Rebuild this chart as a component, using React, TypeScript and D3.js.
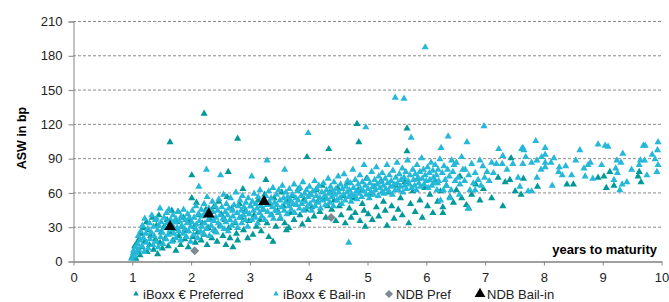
import React, { useEffect, useRef } from "react";
import * as d3 from "d3";

// axis ticks
const xTicks = [0, 1, 2, 3, 4, 5, 6, 7, 8, 9, 10];
const yTicks = [0, 30, 60, 90, 120, 150, 180, 210];

const legendLabels = ["iBoxx € Preferred", "iBoxx € Bail-in", "NDB Pref", "NDB Bail-in"];

// [years to maturity, ASW in bp]
const preferred: [number, number][] = [
  [1.0, 3], [1.03, 7], [1.05, 13], [1.07, 2], [1.08, 15], [1.1, 9], [1.12, 19], [1.14, 5], [1.16, 24], [1.18, 12],
  [1.2, 29], [1.22, 17], [1.25, 34], [1.26, 8], [1.28, 27], [1.3, 14], [1.32, 22], [1.35, 38], [1.37, 10], [1.4, 19],
  [1.42, 31], [1.44, 6], [1.46, 40], [1.48, 16], [1.5, 25],
  [1.52, 11], [1.55, 30], [1.57, 20], [1.6, 36], [1.62, 13], [1.65, 104], [1.65, 25], [1.68, 44], [1.7, 18], [1.72, 28],
  [1.75, 9], [1.77, 34], [1.79, 43], [1.8, 22], [1.83, 14], [1.85, 30], [1.88, 38], [1.9, 19], [1.93, 26], [1.96, 12], [1.98, 35],
  [2.02, 75], [2.02, 55], [2.04, 21], [2.06, 30], [2.08, 16], [2.1, 51], [2.12, 25], [2.15, 40], [2.18, 18], [2.2, 33],
  [2.23, 129], [2.23, 23], [2.26, 45], [2.28, 14], [2.3, 29], [2.33, 37], [2.36, 20], [2.39, 47], [2.42, 26], [2.45, 17],
  [2.48, 52], [2.5, 31],
  [2.52, 41], [2.55, 22], [2.58, 36], [2.6, 14], [2.62, 56], [2.64, 78], [2.65, 29], [2.67, 20], [2.7, 46], [2.72, 12],
  [2.75, 33], [2.78, 24], [2.8, 107], [2.8, 18], [2.83, 50], [2.86, 38], [2.89, 63], [2.9, 27], [2.93, 44], [2.97, 20], [2.99, 35],
  [3.02, 48], [3.06, 23], [3.08, 40], [3.12, 30], [3.15, 53], [3.18, 36], [3.2, 26], [3.23, 45], [3.26, 58], [3.28, 71],
  [3.3, 33], [3.33, 21], [3.35, 49], [3.38, 40], [3.4, 17], [3.42, 55], [3.45, 30], [3.48, 44],
  [3.52, 37], [3.55, 60], [3.58, 48], [3.6, 33], [3.63, 27], [3.65, 52], [3.67, 29], [3.7, 42], [3.73, 57], [3.76, 36],
  [3.8, 49], [3.83, 63], [3.86, 40], [3.9, 32], [3.93, 54], [3.96, 45], [3.98, 91],
  [4.0, 36], [4.03, 58], [4.06, 47], [4.1, 39], [4.13, 62], [4.16, 52], [4.2, 43], [4.24, 66], [4.27, 55], [4.3, 38],
  [4.33, 48], [4.35, 98], [4.37, 60], [4.4, 45], [4.44, 53], [4.47, 35],
  [4.5, 64], [4.53, 48], [4.56, 40], [4.6, 57], [4.63, 33], [4.66, 68], [4.7, 46], [4.73, 38], [4.76, 55], [4.8, 42],
  [4.83, 120], [4.85, 62], [4.86, 104], [4.88, 35], [4.92, 50], [4.95, 44], [4.97, 30], [4.99, 72],
  [5.02, 41], [5.05, 58], [5.09, 36], [5.12, 65], [5.16, 47], [5.2, 39], [5.24, 70], [5.28, 52], [5.31, 44], [5.34, 31],
  [5.38, 60], [5.42, 48], [5.46, 37], [5.49, 66],
  [5.53, 45], [5.57, 55], [5.6, 40], [5.64, 69], [5.68, 116], [5.68, 96], [5.71, 33], [5.74, 50], [5.78, 61], [5.82, 43],
  [5.86, 72], [5.9, 53], [5.94, 38], [5.98, 64],
  [6.03, 48], [6.07, 58], [6.12, 42], [6.16, 70], [6.2, 52], [6.25, 61], [6.29, 47], [6.29, 42], [6.35, 66], [6.41, 56], [6.47, 51],
  [6.52, 62], [6.58, 74], [6.61, 55], [6.69, 49], [6.73, 46], [6.78, 58], [6.85, 67], [6.92, 53], [6.98, 63],
  [7.12, 55], [7.23, 73], [7.31, 48], [7.35, 69], [7.43, 71], [7.45, 90], [7.52, 61], [7.62, 58], [7.66, 72], [7.9, 65],
  [8.4, 67], [8.51, 67], [8.93, 73], [9.03, 74], [9.07, 64], [9.13, 78], [9.2, 66], [9.61, 74], [9.63, 78], [9.66, 69],
];

const bailIn: [number, number][] = [
  [1.0, 2], [1.02, 5], [1.03, 9], [1.05, 4], [1.06, 12], [1.08, 7], [1.1, 15], [1.11, 22], [1.12, 10], [1.14, 18],
  [1.15, 26], [1.17, 13], [1.18, 31], [1.2, 20], [1.21, 8], [1.22, 37], [1.24, 24], [1.25, 16],
  [1.27, 28], [1.28, 11], [1.3, 33], [1.31, 19], [1.33, 25], [1.34, 40], [1.36, 14], [1.37, 30], [1.38, 22], [1.4, 36],
  [1.41, 17], [1.42, 37], [1.44, 27], [1.45, 12], [1.46, 31], [1.48, 46], [1.49, 21], [1.5, 34],
  [1.52, 25], [1.53, 15], [1.55, 38], [1.56, 29], [1.58, 19], [1.59, 42], [1.6, 33], [1.62, 23], [1.63, 45], [1.65, 27],
  [1.66, 36], [1.68, 17], [1.69, 31], [1.7, 40], [1.72, 24], [1.73, 34], [1.75, 37], [1.75, 20],
  [1.77, 29], [1.78, 43], [1.8, 26], [1.81, 35], [1.83, 18], [1.84, 39], [1.85, 31], [1.87, 24], [1.88, 45], [1.9, 28],
  [1.91, 36], [1.93, 21], [1.94, 33], [1.95, 41], [1.97, 26], [1.98, 38], [2.0, 30], [2.0, 17],
  [2.02, 34], [2.03, 44], [2.05, 23], [2.06, 38], [2.08, 28], [2.09, 48], [2.1, 32], [2.12, 20], [2.13, 41], [2.14, 65],
  [2.15, 35], [2.17, 26], [2.18, 45], [2.19, 30], [2.2, 39], [2.22, 24], [2.23, 50], [2.24, 33], [2.25, 42],
  [2.27, 80], [2.27, 28], [2.28, 56], [2.3, 36], [2.31, 46], [2.32, 22], [2.34, 39], [2.35, 31], [2.37, 52], [2.38, 43],
  [2.39, 27], [2.4, 35], [2.42, 48], [2.43, 38], [2.44, 25], [2.46, 44], [2.47, 33], [2.48, 54], [2.5, 40],
  [2.51, 75], [2.52, 30], [2.53, 47], [2.55, 37], [2.56, 58], [2.57, 28], [2.59, 43], [2.6, 34], [2.61, 50], [2.63, 40],
  [2.64, 26], [2.65, 46], [2.67, 36], [2.68, 55], [2.7, 31], [2.71, 44], [2.72, 39], [2.74, 49],
  [2.76, 34], [2.77, 60], [2.79, 42], [2.8, 29], [2.81, 48], [2.83, 38], [2.84, 53], [2.86, 44], [2.87, 33], [2.88, 57],
  [2.9, 40], [2.91, 47], [2.93, 36], [2.94, 51], [2.95, 43], [2.97, 30], [2.98, 55], [3.0, 41],
  [3.02, 48], [3.04, 74], [3.04, 36], [3.05, 52], [3.07, 44], [3.08, 59], [3.1, 38], [3.11, 50], [3.13, 46], [3.14, 33],
  [3.15, 56], [3.17, 42], [3.18, 62], [3.2, 48], [3.21, 39], [3.23, 54], [3.24, 45],
  [3.26, 36], [3.28, 57], [3.3, 88], [3.3, 49], [3.31, 43], [3.33, 61], [3.34, 52], [3.36, 40], [3.37, 55], [3.39, 47],
  [3.4, 64], [3.41, 37], [3.43, 51], [3.44, 44], [3.46, 58], [3.47, 49], [3.49, 42],
  [3.5, 62], [3.52, 53], [3.53, 38], [3.55, 47], [3.56, 66], [3.58, 55], [3.59, 44], [3.6, 80], [3.61, 51], [3.62, 60],
  [3.64, 41], [3.65, 56], [3.67, 48], [3.68, 63], [3.7, 53], [3.71, 45], [3.73, 58], [3.74, 50],
  [3.76, 67], [3.77, 42], [3.79, 55], [3.8, 49], [3.82, 61], [3.83, 53], [3.85, 46], [3.86, 64], [3.88, 57], [3.89, 50],
  [3.91, 69], [3.92, 44], [3.94, 59], [3.95, 52], [3.97, 62], [3.98, 47], [4.0, 112], [4.0, 56],
  [4.02, 65], [4.03, 50], [4.05, 58], [4.06, 44], [4.08, 61], [4.09, 53], [4.11, 70], [4.12, 48], [4.14, 57], [4.15, 63],
  [4.17, 51], [4.18, 66], [4.2, 55], [4.21, 46], [4.23, 60], [4.24, 53],
  [4.26, 68], [4.28, 57], [4.29, 49], [4.31, 62], [4.32, 54], [4.34, 72], [4.35, 59], [4.37, 51], [4.38, 65], [4.4, 56],
  [4.41, 61], [4.43, 48], [4.44, 69], [4.46, 58], [4.47, 63], [4.49, 53],
  [4.51, 74], [4.52, 60], [4.54, 55], [4.55, 67], [4.57, 50], [4.58, 63], [4.6, 58], [4.61, 76], [4.63, 53], [4.64, 65],
  [4.66, 60], [4.67, 70], [4.69, 16], [4.69, 56], [4.7, 62], [4.72, 68], [4.73, 52], [4.74, 58],
  [4.76, 80], [4.77, 64], [4.79, 57], [4.8, 71], [4.82, 61], [4.83, 54], [4.85, 67], [4.86, 59], [4.88, 75], [4.89, 63],
  [4.91, 56], [4.92, 69], [4.94, 61], [4.95, 84], [4.97, 66], [4.98, 117], [4.99, 58],
  [5.01, 72], [5.02, 63], [5.04, 55], [5.05, 68], [5.07, 60], [5.08, 78], [5.1, 65], [5.11, 58], [5.13, 71], [5.14, 62],
  [5.16, 82], [5.17, 67], [5.19, 57], [5.2, 74], [5.22, 64], [5.23, 69], [5.25, 60],
  [5.26, 77], [5.28, 66], [5.29, 59], [5.31, 72], [5.32, 63], [5.34, 84], [5.35, 68], [5.37, 61], [5.38, 75], [5.4, 65],
  [5.41, 70], [5.43, 58], [5.44, 79], [5.46, 67], [5.48, 143], [5.48, 62], [5.49, 73],
  [5.51, 86], [5.52, 68], [5.54, 62], [5.55, 76], [5.57, 65], [5.58, 71], [5.6, 81], [5.61, 60], [5.63, 142], [5.63, 73],
  [5.64, 66], [5.66, 78], [5.67, 63], [5.69, 88], [5.7, 70], [5.72, 67], [5.73, 75], [5.75, 108],
  [5.76, 64], [5.78, 80], [5.79, 71], [5.81, 66], [5.82, 76], [5.84, 62], [5.85, 84], [5.87, 73], [5.88, 68], [5.9, 78],
  [5.91, 65], [5.93, 90], [5.94, 72], [5.96, 80], [5.97, 67], [5.99, 187], [5.99, 75],
  [6.01, 70], [6.03, 82], [6.04, 64], [6.06, 77], [6.07, 71], [6.09, 86], [6.1, 66], [6.12, 79], [6.13, 73], [6.15, 68],
  [6.16, 84], [6.18, 75], [6.19, 62], [6.2, 68], [6.21, 80], [6.22, 70], [6.24, 89], [6.25, 53],
  [6.26, 99], [6.28, 77], [6.3, 62], [6.31, 83], [6.33, 71], [6.35, 66], [6.37, 80], [6.38, 109], [6.4, 74], [6.41, 55],
  [6.43, 62], [6.44, 88], [6.46, 78], [6.48, 84], [6.5, 70],
  [6.52, 86], [6.55, 73], [6.57, 58], [6.58, 67], [6.61, 91], [6.63, 80], [6.66, 70], [6.67, 80], [6.7, 104], [6.72, 46],
  [6.73, 75], [6.75, 62], [6.78, 85], [6.81, 68], [6.84, 77], [6.84, 62], [6.89, 71], [6.92, 88], [6.94, 66], [6.97, 83],
  [6.99, 118], [7.0, 73],
  [7.04, 78], [7.08, 70], [7.12, 86], [7.15, 77], [7.2, 85], [7.24, 98], [7.3, 85], [7.31, 92], [7.38, 80], [7.48, 85],
  [7.57, 73], [7.6, 65], [7.63, 98], [7.65, 99], [7.67, 97], [7.65, 85], [7.7, 91], [7.74, 61], [7.8, 61], [7.8, 86],
  [7.87, 105], [7.89, 88], [7.89, 73], [7.96, 80], [7.97, 91],
  [8.03, 99], [8.03, 93], [8.03, 86], [8.03, 82], [8.13, 86], [8.15, 66], [8.18, 90], [8.26, 78], [8.27, 82], [8.32, 75],
  [8.38, 83], [8.48, 75], [8.55, 88], [8.62, 97], [8.69, 81], [8.71, 74], [8.76, 84], [8.8, 86], [8.84, 72], [8.93, 102],
  [8.99, 84], [9.05, 101], [9.1, 100], [9.2, 71], [9.23, 81], [9.25, 88], [9.26, 77], [9.3, 62], [9.32, 86], [9.34, 67],
  [9.35, 94], [9.42, 69], [9.5, 80], [9.63, 84], [9.65, 88], [9.7, 101], [9.72, 88], [9.73, 101], [9.76, 75], [9.85, 93],
  [9.9, 89], [9.93, 78], [9.94, 97], [9.95, 104], [9.95, 84],
];

const ndbPref: [number, number][] = [[2.07, 9], [4.39, 38]];
const ndbBailIn: [number, number][] = [[1.65, 30], [2.31, 41], [3.25, 52]];

const colors = ["#00999a", "#25b8d8", "#7f8b92", "#000000"];

export default function App() {
  const ref = useRef<SVGSVGElement>(null);

  useEffect(() => {
    const svg = d3.select(ref.current);
    svg.selectAll("*").remove();

    const font = "'Liberation Sans', Arial, sans-serif";
    const x = d3.scaleLinear().domain([0, 10]).range([73, 661]);
    const y = d3.scaleLinear().domain([0, 210]).range([261, 21]);

    // dashed gridlines
    svg.append("g")
      .selectAll("line")
      .data(yTicks.filter((t) => t > 0))
      .join("line")
      .attr("x1", x(0))
      .attr("x2", x(10))
      .attr("y1", (d) => y(d) + 0.5)
      .attr("y2", (d) => y(d) + 0.5)
      .attr("stroke", "#8c8c8c")
      .attr("stroke-dasharray", "3,2");

    // y axis
    const yAxis = svg.append("g")
      .attr("transform", `translate(${x(0) + 0.5},0.5)`)
      .call(d3.axisLeft(y).tickValues(yTicks).tickSize(5).tickPadding(6));
    yAxis.select(".domain").attr("stroke", "#868686");
    yAxis.selectAll(".tick line").attr("stroke", "#868686");
    yAxis.selectAll("text")
      .style("font-family", font)
      .style("font-size", "13px")
      .attr("fill", "#222");

    // x axis
    const xAxis = svg.append("g")
      .attr("transform", `translate(0.5,${y(0) + 0.5})`)
      .call(d3.axisBottom(x).tickValues(xTicks).tickSize(4).tickPadding(7).tickSizeOuter(0));
    xAxis.select(".domain").attr("stroke", "#a0a0a0").attr("stroke-width", 2);
    xAxis.selectAll(".tick line").attr("stroke", "#868686");
    xAxis.selectAll("text")
      .style("font-family", font)
      .style("font-size", "13px")
      .attr("fill", "#222");

    // markers
    const tri = d3.symbol().type(d3.symbolTriangle).size(22);
    const plot = svg.append("g");
    plot.selectAll("path.pref")
      .data(preferred)
      .join("path")
      .attr("class", "pref")
      .attr("d", tri)
      .attr("transform", (d) => `translate(${x(d[0])},${y(d[1])})`)
      .attr("fill", colors[0]);

    plot.selectAll("path.bail")
      .data(bailIn)
      .join("path")
      .attr("class", "bail")
      .attr("d", tri)
      .attr("transform", (d) => `translate(${x(d[0])},${y(d[1])})`)
      .attr("fill", colors[1]);

    plot.selectAll("path.npref")
      .data(ndbPref)
      .join("path")
      .attr("class", "npref")
      .attr("d", d3.symbol().type(d3.symbolSquare).size(40))
      .attr("transform", (d) => `translate(${x(d[0])},${y(d[1])}) rotate(45)`)
      .attr("fill", colors[2]);

    plot.selectAll("path.nbail")
      .data(ndbBailIn)
      .join("path")
      .attr("class", "nbail")
      .attr("d", d3.symbol().type(d3.symbolTriangle).size(60))
      .attr("transform", (d) => `translate(${x(d[0])},${y(d[1])})`)
      .attr("fill", colors[3]);

    // axis titles
    svg.append("text")
      .attr("transform", "translate(26,138) rotate(-90)")
      .attr("text-anchor", "middle")
      .style("font-family", font)
      .style("font-size", "12.5px")
      .style("font-weight", "bold")
      .text("ASW in bp");

    svg.append("text")
      .attr("x", 657)
      .attr("y", 254)
      .attr("text-anchor", "end")
      .style("font-family", font)
      .style("font-size", "13px")
      .style("font-weight", "bold")
      .text("years to maturity");

    // legend
    const legendX = [136, 276, 389, 480];
    const legendSymbols = [
      d3.symbol().type(d3.symbolTriangle).size(13),
      d3.symbol().type(d3.symbolTriangle).size(13),
      d3.symbol().type(d3.symbolSquare).size(34),
      d3.symbol().type(d3.symbolTriangle).size(50),
    ];
    const legend = svg.append("g");
    legendLabels.forEach((label, i) => {
      legend.append("path")
        .attr("d", legendSymbols[i])
        .attr("transform", `translate(${legendX[i]},294)${i === 2 ? " rotate(45)" : ""}`)
        .attr("fill", colors[i]);
      legend.append("text")
        .attr("x", legendX[i] + (i >= 2 ? 7 : 7))
        .attr("y", 298.5)
        .style("font-family", font)
        .style("font-size", "13px")
        .attr("fill", "#222")
        .text(label);
    });
  }, []);

  return (
    <svg
      ref={ref}
      width={669}
      height={302}
      style={{ position: "absolute", left: 0, top: 0, background: "#fff" }}
    />
  );
}
